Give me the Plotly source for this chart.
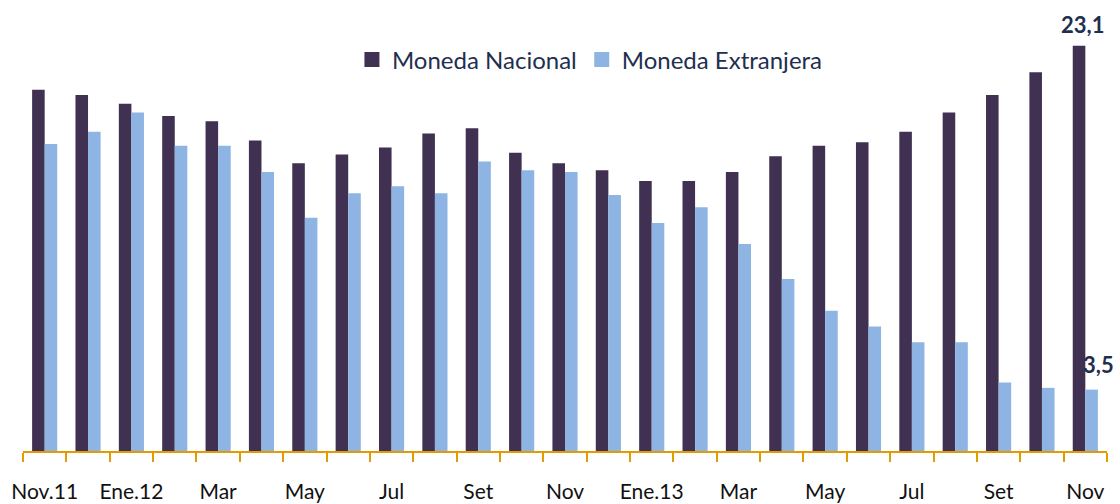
import plotly.graph_objects as go

months = ["Nov.11", "Dic", "Ene.12", "Feb", "Mar", "Abr", "May", "Jun", "Jul", "Ago",
          "Set", "Oct", "Nov", "Dic", "Ene.13", "Feb", "Mar", "Abr", "May", "Jun",
          "Jul", "Ago", "Set", "Oct", "Nov"]
moneda_nacional = [20.6, 20.3, 19.8, 19.1, 18.8, 17.7, 16.4, 16.9, 17.3, 18.1,
                   18.4, 17.0, 16.4, 16.0, 15.4, 15.4, 15.9, 16.8, 17.4, 17.6,
                   18.2, 19.3, 20.3, 21.6, 23.1]
moneda_extranjera = [17.5, 18.2, 19.3, 17.4, 17.4, 15.9, 13.3, 14.7, 15.1, 14.7,
                     16.5, 16.0, 15.9, 14.6, 13.0, 13.9, 11.8, 9.8, 8.0, 7.1,
                     6.2, 6.2, 3.9, 3.6, 3.5]
series_names = ["Moneda Nacional", "Moneda Extranjera"]

DARK = "#403152"
LIGHT = "#8EB4E3"
TEXT = "#1F2F4F"
AXIS = "#E09C00"
FONT = "Lato"

idx = list(range(len(months)))
label_idx = idx[::2]

# geometry: plot bottom at y=451px, top margin t
W, H = 1120, 504
t, b = 20, 53
px_per_unit = 17.54
ymax = (H - t - b) / px_per_unit

fig = go.Figure()
for name, vals, col in [(series_names[0], moneda_nacional, DARK),
                        (series_names[1], moneda_extranjera, LIGHT)]:
    fig.add_trace(go.Bar(x=idx, y=vals, name=name, showlegend=False,
                         marker=dict(color=col, line=dict(width=0))))
# legend entries with larger square swatches
for name, col in [(series_names[0], DARK), (series_names[1], LIGHT)]:
    fig.add_trace(go.Scatter(x=[None], y=[None], mode="markers", name=name,
                             marker=dict(symbol="square", size=15, color=col),
                             showlegend=True, hoverinfo="skip"))

fig.add_annotation(x=idx[-1], y=moneda_nacional[-1], text="<b>23,1</b>",
                   showarrow=False, xref="x", yref="y", yanchor="middle",
                   xshift=-3, yshift=21, font=dict(family=FONT, size=22, color=TEXT))
fig.add_annotation(x=idx[-1], y=moneda_extranjera[-1], text="<b>3,5</b>",
                   showarrow=False, xref="x", yref="y", yanchor="middle",
                   xshift=13, yshift=25, font=dict(family=FONT, size=22, color=TEXT))

fig.update_layout(
    width=W, height=H,
    margin=dict(l=23, r=13, t=t, b=b, pad=0, autoexpand=False),
    paper_bgcolor="white", plot_bgcolor="white",
    barmode="group", bargap=0.42, bargroupgap=0,
    font=dict(family=FONT, color="#111111"),
    showlegend=True,
    legend=dict(orientation="h", x=0.523, xanchor="center",
                y=(H - b - 60) / (H - t - b), yanchor="middle",
                font=dict(family=FONT, size=24, color=TEXT),
                bgcolor="rgba(0,0,0,0)", traceorder="normal",
                itemwidth=30, tracegroupgap=0),
    xaxis=dict(range=[-0.5, len(months) - 0.5], showgrid=False, zeroline=False,
               automargin=False,
               showline=True, linecolor=AXIS, linewidth=2,
               tickmode="array", tickvals=label_idx,
               ticktext=[months[i] for i in label_idx],
               ticks="", ticklabelstandoff=21,
               tickfont=dict(family=FONT, size=21, color="#111111"),
               minor=dict(tickmode="array",
                          tickvals=[i - 0.5 for i in range(len(months) + 1)],
                          ticks="outside", ticklen=9, tickwidth=2, tickcolor=AXIS,
                          showgrid=False)),
    yaxis=dict(range=[0, ymax], visible=False, showgrid=False, zeroline=False,
               automargin=False),
)

fig.write_html("out.html",
               config={"displayModeBar": False},
               post_script="document.body.style.margin='0';"
                           "document.body.style.overflow='hidden';")
